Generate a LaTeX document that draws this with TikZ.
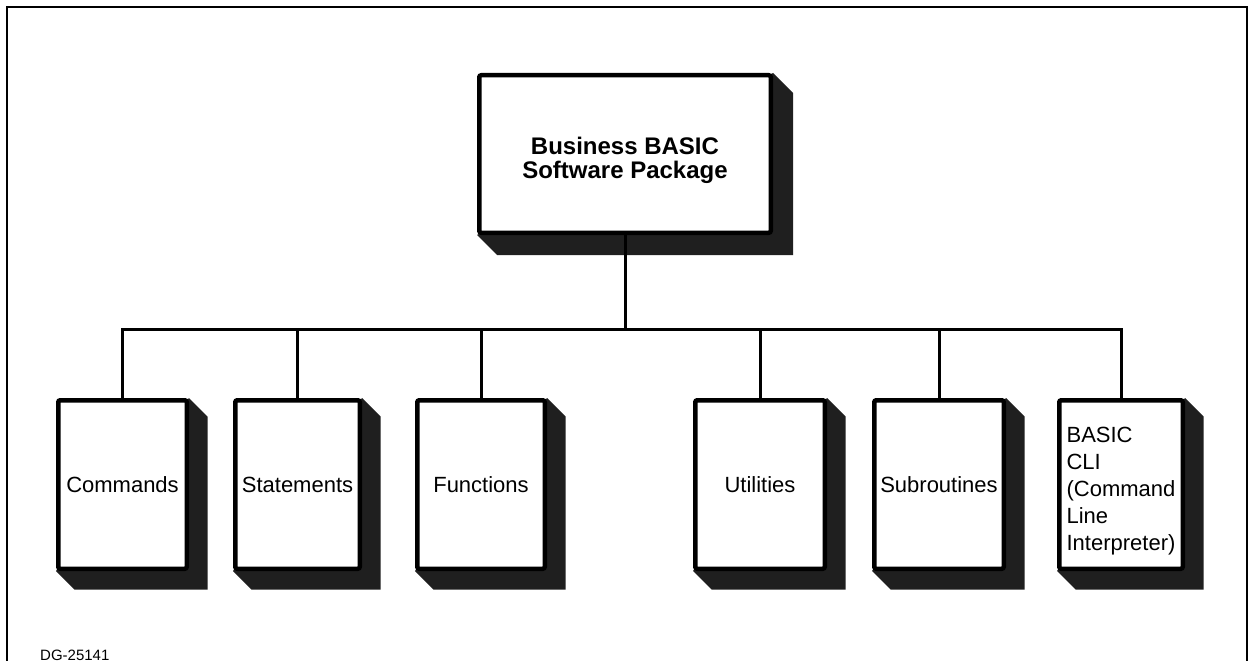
\documentclass[tikz,border=0pt]{standalone}
\usepackage{fontspec}
\setmainfont{Liberation Sans}
\usetikzlibrary{calc,backgrounds}

\begin{document}
\begin{tikzpicture}[x=1pt,y=-1pt,
    box/.style={draw,line width=4.5pt,fill=white,inner sep=0pt,rounded corners=2pt,
      minimum height=168.5pt,font=\fontsize{22}{27}\selectfont},
    shade/.style={fill=black!88},
    link/.style={line width=3pt}]
  \useasboundingbox (0,0) rectangle (1251,661);
  \draw[line width=2pt] (7,661) -- (7,7) -- (1247,7) -- (1247,661);

  \node[box,minimum width=291.5pt,minimum height=157.5pt,align=center,
        font=\bfseries\fontsize{24}{24}\selectfont] (top) at (625,154)
        {\rule{0pt}{30pt}Business BASIC\\Software Package};

  \node[box,minimum width=128.5pt] (cmd) at (122.5,484.5) {Commands};
  \node[box,minimum width=124.5pt] (stm) at (297.5,484.5) {Statements};
  \node[box,minimum width=127.5pt] (fun) at (481,484.5)   {Functions};
  \node[box,minimum width=129.5pt] (utl) at (760,484.5)   {Utilities};
  \node[box,minimum width=129.5pt] (sub) at (939,484.5)   {Subroutines};
  \node[box,minimum width=123.5pt,align=left] (cli) at (1121,484.5)
        {\rule{0pt}{28pt}BASIC\\CLI\\(Command\\Line\\Interpreter)};

  \node[anchor=west,inner sep=0pt,font=\fontsize{15}{15}\selectfont] (dg) at (40,655) {DG-25141};

  \coordinate (bus) at (622,329);

  \begin{scope}[on background layer]
    % blocks
    \fill[shade] (top.north east) -- ++(20,20) -- ($(top.south east)+(20,20)$)
      -- ($(top.south west)+(20,20)$) -- (top.south west) -- cycle;
    \foreach \n in {cmd,stm,fun,utl,sub,cli}
      \fill[shade] (\n.north east) -- ++(18.5,18.5) -- ($(\n.south east)+(18.5,18.5)$)
        -- ($(\n.south west)+(18.5,18.5)$) -- (\n.south west) -- cycle;

    % tree
    \draw[link] (top) -- (top |- bus);
    \draw[link] (cmd) |- (bus);
    \draw[link] (stm) |- (bus);
    \draw[link] (fun) |- (bus);
    \draw[link] (utl) |- (bus);
    \draw[link] (sub) |- (bus);
    \draw[link] (cli) |- (bus);
  \end{scope}
\end{tikzpicture}
\end{document}
